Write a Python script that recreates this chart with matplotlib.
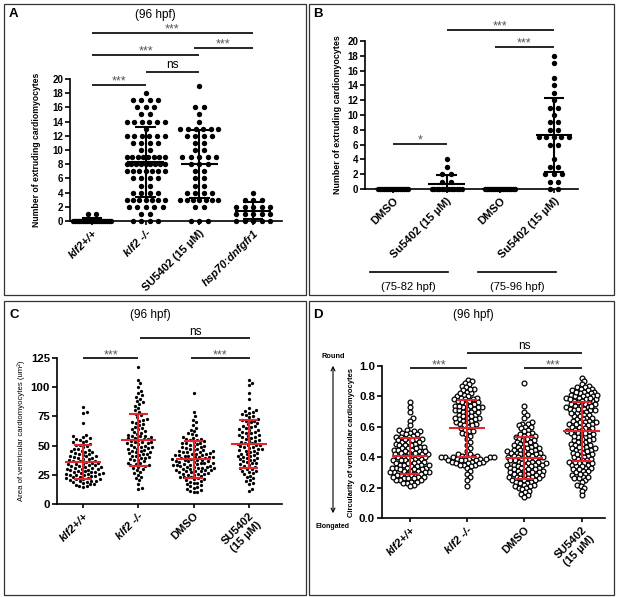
import numpy as np
import matplotlib
matplotlib.use("Agg")
import matplotlib.pyplot as plt
import matplotlib.transforms as mtransforms
from matplotlib.patches import Rectangle, FancyArrowPatch
from matplotlib.ticker import FormatStrFormatter

plt.rcParams['font.family'] = ['Liberation Sans', 'DejaVu Sans']

W, H = 617, 597
RED = '#e3262b'

# ---------------- data ----------------
# A: number of extruding cardiomyocytes (96 hpf)
a_labels = ["klf2+/+", "klf2 -/-", "SU5402 (15 µM)", "hsp70:dnfgfr1"]
a_italic = [True, True, False, True]
a_klf2_wt = [0] * 20 + [1] * 2
a_klf2_mut = ([18] + [17] * 4 + [16] * 3 + [15] * 2 + [14] * 6 + [13] + [12] * 6 + [11] * 4
              + [10] * 2 + [9] * 8 + [8] * 9 + [7] * 7 + [6] * 4 + [5] * 2 + [4] * 4 + [3] * 7
              + [2] * 5 + [1] * 2 + [0] * 4)
a_su5402 = ([19] + [16] * 2 + [15] + [14] + [13] * 6 + [12] * 4 + [11] * 2 + [10] * 2 + [9] * 5
            + [8] * 3 + [7] * 2 + [6] * 2 + [5] * 2 + [4] * 4 + [3] * 7 + [2] * 2 + [0] * 3)
a_hsp70 = [4] + [3] * 3 + [2] * 5 + [1] * 5 + [0] * 5

# B: timed treatment
b_labels = ["DMSO", "Su5402 (15 µM)", "DMSO", "Su5402 (15 µM)"]
b_windows = ["(75-82 hpf)", "(75-96 hpf)"]
b_dmso_82 = [0] * 16
b_su_82 = [4, 3, 2, 2, 1, 1] + [0] * 13
b_dmso_96 = [0] * 16
b_su_96 = [18, 17, 15, 14, 13, 12, 11, 11, 10, 9, 9, 8, 8, 7, 7, 7, 7, 7, 6, 6,
           4, 3, 3, 2, 2, 2, 1, 1, 0, 0]

# C: area of ventricular cardiomyocytes (um^2)
cd_labels = ["klf2+/+", "klf2 -/-", "DMSO", "SU5402\n(15 µM)"]
cd_italic = [True, True, False, False]
c_klf2_wt = [83.4, 79.1, 77.8, 69.5,
             59.2, 57.9, 57.3, 56.1, 55.6, 54.8, 54.2, 53.1, 52.7, 51.4, 50.6, 50.2,
             49.3, 48.8, 47.5, 47.0, 46.2, 45.7, 45.1, 44.4, 43.9, 43.2, 42.6, 42.1,
             41.5, 41.0, 40.3, 39.8, 39.4, 38.7, 38.1, 37.6, 37.2, 36.5, 36.0, 35.4,
             35.0, 34.6, 34.1, 33.5, 33.0, 32.7, 32.2, 31.6, 31.1, 30.8, 30.3, 29.7,
             29.4, 28.9, 28.3, 27.8, 27.5, 26.9, 26.4, 26.0, 25.6, 25.1, 24.7, 24.2,
             23.8, 23.3, 22.9, 22.4, 21.8, 21.5, 21.0, 20.6, 20.1, 19.7, 19.2, 18.6,
             18.1, 17.4, 16.9, 16.2, 15.6, 15.0, 14.3,
             36.8, 33.9, 30.1, 27.2, 24.9, 22.1, 40.7, 44.8, 19.9, 28.6, 31.9, 25.8]
c_klf2_mut = [117.0, 106.5, 103.2, 100.1,
              96.8, 94.9, 93.1, 91.7, 90.2, 88.4, 87.0, 85.6,
              84.1, 82.3, 80.5, 78.9, 77.2, 75.8, 74.1, 72.6, 71.3, 70.2,
              68.7, 67.4, 66.1, 65.0, 63.8, 62.5, 61.4, 60.3,
              59.5, 58.6, 57.8, 57.0, 56.2, 55.5, 54.8, 54.1, 53.4, 52.7, 52.0, 51.3, 50.6, 50.0,
              49.2, 48.4, 47.6, 46.9, 46.1, 45.3, 44.6, 43.8, 43.0, 42.2, 41.5, 40.7, 40.0,
              39.1, 38.2, 37.3, 36.4, 35.5, 34.6, 33.7, 32.8, 31.9, 31.0, 30.2,
              29.0, 27.6, 26.3, 24.9, 23.5, 22.0, 20.6,
              17.4, 14.1, 13.2,
              55.9, 48.8, 45.7, 53.0, 58.1, 37.9, 42.6, 33.1, 64.2, 69.5,
              61.0, 56.7, 51.8, 47.3, 44.1, 39.7, 35.2, 72.0]
c_dmso = [95.3, 78.4, 75.1, 72.2, 69.8, 67.5,
          65.2, 63.4, 62.1, 60.8, 59.6, 58.7, 57.5, 56.6, 55.8, 55.0,
          54.4, 53.7, 53.1, 52.5, 51.9, 51.2, 50.6, 50.0, 49.4, 48.8, 48.1, 47.5, 46.9, 46.2, 45.6, 45.0,
          44.6, 44.1, 43.7, 43.2, 42.8, 42.3, 41.9, 41.4, 41.0, 40.5, 40.1, 39.6, 39.2, 38.7,
          38.3, 37.8, 37.4, 36.9, 36.5, 36.0, 35.6, 35.1,
          34.7, 34.2, 33.8, 33.3, 32.9, 32.4, 32.0, 31.5, 31.1, 30.6, 30.2, 29.7, 29.3, 28.8,
          28.4, 27.9, 27.5, 27.0, 26.6, 26.1, 25.7, 25.2,
          24.6, 24.0, 23.4, 22.8, 22.2, 21.6, 21.0, 20.4, 19.8, 19.1, 18.4, 17.7, 17.0, 16.3, 15.6, 14.9,
          14.0, 13.1, 12.2, 11.3, 10.5, 10.1,
          43.0, 38.0, 33.0, 28.0, 46.0, 40.0, 35.5, 30.8, 48.5, 42.0, 37.0, 31.9, 25.9, 52.0,
          44.5, 39.9, 34.0, 29.0, 23.0, 55.3]
c_su5402 = [106.2, 103.8, 101.5, 94.7, 90.1,
            82.4, 80.2, 79.3, 78.6, 77.9, 77.1, 76.0, 75.2,
            74.1, 73.0, 72.2, 71.4, 70.3, 69.1, 68.2, 67.0, 66.1, 65.2,
            64.3, 63.1, 62.0, 61.2, 60.4, 59.3, 58.5, 57.6, 56.8, 55.9, 55.1,
            54.2, 53.4, 52.6, 51.7, 50.9, 50.1, 49.3, 48.5, 47.6, 46.8, 46.0, 45.2,
            44.3, 43.5, 42.6, 41.8, 40.9, 40.1, 39.2, 38.4, 37.5, 36.7, 35.8, 35.0,
            34.1, 33.0, 31.9, 30.8, 29.7, 28.6, 27.5, 26.4, 25.3,
            24.2, 23.0, 21.9, 20.7, 19.6, 18.4, 17.3,
            12.8, 10.9,
            57.2, 52.1, 47.2, 43.1, 37.9, 32.4, 61.7, 66.8, 41.2, 28.1, 53.8, 48.9,
            71.0, 63.5, 58.9, 50.5, 45.8, 39.8, 34.7, 30.3]

# D: circularity of ventricular cardiomyocytes
d_klf2_wt = [0.76, 0.73, 0.70, 0.66, 0.64, 0.61,
             0.58, 0.58, 0.57, 0.57, 0.56, 0.56, 0.55, 0.55,
             0.54, 0.53, 0.53, 0.53, 0.52, 0.52, 0.51, 0.51, 0.50, 0.50, 0.50,
             0.49, 0.49, 0.48, 0.48, 0.47, 0.47, 0.46, 0.46, 0.45, 0.45, 0.45,
             0.44, 0.44, 0.43, 0.43, 0.42, 0.42, 0.42, 0.41, 0.41, 0.40, 0.40, 0.40,
             0.39, 0.39, 0.38, 0.38, 0.38, 0.37, 0.37, 0.36, 0.36, 0.35, 0.35, 0.35,
             0.34, 0.34, 0.33, 0.33, 0.33, 0.32, 0.32, 0.31, 0.31, 0.30, 0.30, 0.30, 0.30,
             0.29, 0.29, 0.28, 0.28, 0.28, 0.27, 0.27, 0.26, 0.26, 0.25, 0.25, 0.25,
             0.24, 0.24, 0.23, 0.23, 0.22, 0.21,
             0.27, 0.29, 0.31, 0.33, 0.36, 0.38, 0.41, 0.43, 0.46, 0.48, 0.26, 0.32, 0.35, 0.44, 0.52]
d_klf2_mut = [0.91, 0.90, 0.89, 0.88, 0.87, 0.86, 0.85, 0.84, 0.83, 0.82, 0.81, 0.80, 0.80,
              0.79, 0.79, 0.78, 0.78, 0.77, 0.77, 0.76, 0.76, 0.75, 0.75,
              0.74, 0.74, 0.73, 0.73, 0.73, 0.72, 0.72, 0.71, 0.71, 0.70, 0.70,
              0.69, 0.68, 0.68, 0.67, 0.67, 0.66, 0.66, 0.65, 0.65,
              0.64, 0.64, 0.63, 0.63, 0.62, 0.62, 0.61, 0.60,
              0.59, 0.58, 0.57, 0.57, 0.56, 0.55,
              0.54, 0.52, 0.50, 0.48, 0.46, 0.44,
              0.42, 0.42, 0.41, 0.41, 0.41, 0.40, 0.40, 0.40, 0.40, 0.40, 0.39, 0.39,
              0.39, 0.38, 0.38, 0.38, 0.37, 0.37, 0.36, 0.36, 0.35, 0.35, 0.35, 0.34,
              0.33, 0.31, 0.29, 0.27, 0.25, 0.21,
              0.85, 0.82, 0.78, 0.74, 0.70, 0.66, 0.61, 0.40, 0.38, 0.37, 0.36, 0.39]
d_dmso = [0.89, 0.74, 0.70, 0.68, 0.66,
          0.63, 0.62, 0.62, 0.61, 0.60, 0.60, 0.59, 0.58, 0.57, 0.56, 0.55, 0.55,
          0.54, 0.54, 0.53, 0.53, 0.52, 0.52, 0.51, 0.51, 0.50, 0.50,
          0.49, 0.49, 0.48, 0.48, 0.47, 0.47, 0.47, 0.46, 0.46, 0.45, 0.45, 0.45,
          0.44, 0.44, 0.44, 0.43, 0.43, 0.43, 0.42, 0.42, 0.42, 0.41, 0.41, 0.41, 0.40, 0.40, 0.40, 0.40,
          0.39, 0.39, 0.39, 0.38, 0.38, 0.38, 0.37, 0.37, 0.37, 0.36, 0.36, 0.36, 0.35, 0.35, 0.35, 0.35,
          0.34, 0.34, 0.34, 0.33, 0.33, 0.33, 0.32, 0.32, 0.32, 0.31, 0.31, 0.31, 0.30, 0.30, 0.30,
          0.29, 0.29, 0.29, 0.28, 0.28, 0.28, 0.27, 0.27, 0.27, 0.26, 0.26, 0.26, 0.25, 0.25, 0.25,
          0.24, 0.24, 0.23, 0.23, 0.22, 0.22, 0.21, 0.21, 0.20, 0.20,
          0.19, 0.18, 0.17, 0.16, 0.15, 0.14]
d_su5402 = [0.92, 0.90, 0.88, 0.87, 0.86, 0.86, 0.85, 0.85,
            0.84, 0.84, 0.83, 0.83, 0.82, 0.82, 0.81, 0.81, 0.80, 0.80, 0.80,
            0.79, 0.79, 0.78, 0.78, 0.77, 0.77, 0.76, 0.76, 0.75, 0.75, 0.75,
            0.74, 0.74, 0.73, 0.73, 0.72, 0.72, 0.71, 0.71, 0.70, 0.70,
            0.69, 0.68, 0.68, 0.67, 0.66, 0.66, 0.65, 0.65,
            0.64, 0.63, 0.63, 0.62, 0.62, 0.61, 0.61, 0.60, 0.60,
            0.59, 0.58, 0.58, 0.57, 0.56, 0.56, 0.55, 0.55,
            0.54, 0.53, 0.53, 0.52, 0.51, 0.51, 0.50, 0.50,
            0.49, 0.48, 0.48, 0.47, 0.46, 0.46, 0.45, 0.45,
            0.44, 0.43, 0.43, 0.42, 0.41, 0.41, 0.40, 0.40,
            0.39, 0.38, 0.38, 0.37, 0.36, 0.36, 0.35, 0.35,
            0.34, 0.33, 0.33, 0.32, 0.31, 0.31, 0.30,
            0.29, 0.28, 0.27, 0.26, 0.26, 0.25,
            0.24, 0.22, 0.21, 0.20, 0.18, 0.15,
            0.83, 0.81, 0.79, 0.77, 0.74, 0.72, 0.69, 0.67, 0.64, 0.62, 0.59, 0.57, 0.54, 0.52, 0.49,
            0.47, 0.44, 0.42, 0.39, 0.37, 0.34, 0.32, 0.29, 0.27, 0.78, 0.71, 0.63, 0.56, 0.46, 0.36]

# ---------------- helpers ----------------
fig = plt.figure(figsize=(W / 100, H / 100), dpi=100)


def fx(x):
    return x / W


def fy(y):
    return 1 - y / H


def add_axes(l, t, r, b, xlim, ylim):
    ax = fig.add_axes([fx(l), fy(b), (r - l) / W, (b - t) / H])
    ax.set_xlim(xlim)
    ax.set_ylim(ylim)
    for s in ['top', 'right']:
        ax.spines[s].set_visible(False)
    for s in ['left', 'bottom']:
        ax.spines[s].set_linewidth(1.2)
    ax.patch.set_alpha(0)
    return ax


def px_per_unit(ax):
    pos = ax.get_position()
    x0, x1 = ax.get_xlim()
    y0, y1 = ax.get_ylim()
    return pos.width * W / (x1 - x0), pos.height * H / (y1 - y0)


def row_offsets(vals, gap, maxw):
    # integer data: points with the same value side by side in a row
    vals = np.asarray(vals, float)
    offs = np.zeros(len(vals))
    for v in np.unique(vals):
        idx = np.where(vals == v)[0]
        n = len(idx)
        if n > 1:
            s = min(gap, maxw / (n - 1))
            offs[idx] = (np.arange(n) - (n - 1) / 2) * s
    return offs


def swarm_offsets(vals, ypx, d):
    # simple beeswarm in pixel space
    vals = np.asarray(vals, float)
    order = np.argsort(vals)
    offs = np.zeros(len(vals))
    px_, py_ = [], []
    for i in order:
        y = vals[i] * ypx
        near = [(a, b) for a, b in zip(px_, py_) if abs(b - y) < d]
        cands = [0.0]
        for a, b in near:
            dx = np.sqrt(d * d - (b - y) ** 2)
            cands += [a + dx, a - dx]
        cands.sort(key=abs)
        for c in cands:
            if all((c - a) ** 2 + (y - b) ** 2 >= d * d - 1e-6 for a, b in near):
                break
        px_.append(c)
        py_.append(y)
        offs[i] = c
    return offs


def draw_group(ax, i, vals, offs_px, scat, color, mean_hw, cap_hw, lw):
    xpx, _ = px_per_unit(ax)
    vals = np.asarray(vals, float)
    ax.scatter(i + offs_px / xpx, vals, clip_on=False, zorder=3, **scat)
    m = vals.mean()
    s = vals.std(ddof=1)
    kw = dict(color=color, lw=lw, zorder=4, solid_capstyle='butt')
    ax.plot([i - mean_hw, i + mean_hw], [m, m], **kw)
    ax.plot([i, i], [m - s, m + s], **kw)
    ax.plot([i - cap_hw, i + cap_hw], [m + s, m + s], **kw)
    ax.plot([i - cap_hw, i + cap_hw], [m - s, m - s], **kw)


def sig(ax, x0, x1, y, text, dy=0.0):
    ax.plot([x0, x1], [y, y], color='black', lw=1.2, clip_on=False, solid_capstyle='butt')
    tr = mtransforms.offset_copy(ax.transData, fig=fig, x=0, y=dy, units='points')
    if text == 'ns':
        ax.text((x0 + x1) / 2, y, text, transform=tr, ha='center', va='baseline',
                fontsize=8.5, clip_on=False)
    else:
        ax.text((x0 + x1) / 2, y, text, transform=tr, ha='center', va='baseline',
                fontsize=9, color='#555555', clip_on=False)


def style_ticks(ax, labels, italic, xsize, ysize):
    ax.set_xticks(range(len(labels)))
    ax.set_xticklabels(labels, rotation=45, ha='right', rotation_mode='anchor',
                       fontweight='bold', fontsize=xsize)
    for lab, it in zip(ax.get_xticklabels(), italic):
        if it:
            lab.set_style('italic')
        lab.set_multialignment('center')
    ax.tick_params(axis='x', length=3, width=1.2, pad=2)
    ax.tick_params(axis='y', length=3.5, width=1.2, pad=1.5, labelsize=ysize)
    for lab in ax.get_yticklabels():
        lab.set_fontweight('bold')


def border(l, t, r, b):
    fig.add_artist(Rectangle((fx(l), fy(b)), (r - l) / W, (b - t) / H,
                             transform=fig.transFigure, fill=False, lw=0.9, ec='#333333'))


border(4, 4, 306, 295)
border(309, 4, 614, 295)
border(4, 301, 306, 595)
border(309, 301, 614, 595)

dot_big = dict(s=15, color='black', linewidths=0)

# ---------------- panel A ----------------
axA = add_axes(70, 79, 282, 221, (-0.41, 3.54), (0, 20))
axA.set_yticks(range(0, 21, 2))
for i, v in enumerate([a_klf2_wt, a_klf2_mut, a_su5402, a_hsp70]):
    draw_group(axA, i, v, row_offsets(v, 8.5, 38), dot_big, 'black', 0.34, 0.19, 1.5)
style_ticks(axA, a_labels, a_italic, 8, 7)
axA.set_ylabel("Number of extruding cardiomyocytes", fontsize=6.2, fontweight='bold')
axA.yaxis.set_label_coords(-0.135, 0.5)
sig(axA, 0, 1, 19.2, '***')
sig(axA, 1, 2, 21.0, 'ns', 2.5)
sig(axA, 0, 2, 23.4, '***')
sig(axA, 1.9, 3, 24.4, '***')
sig(axA, 0, 3, 26.5, '***')
fig.text(fx(155), fy(15), "(96 hpf)", ha='center', va='center', fontsize=8.5)
fig.text(fx(9), fy(14), "A", ha='left', va='center', fontsize=9.5, fontweight='bold')

# ---------------- panel B ----------------
axB = add_axes(365, 41, 578, 189, (-0.52, 3.45), (0, 20))
axB.set_yticks(range(0, 21, 2))
for i, v in enumerate([b_dmso_82, b_su_82, b_dmso_96, b_su_96]):
    draw_group(axB, i, v, row_offsets(v, 8.5, 30), dot_big, 'black', 0.34, 0.19, 1.5)
style_ticks(axB, b_labels, [False] * 4, 8, 7)
axB.set_ylabel("Number of extruding cardiomyocytes", fontsize=6.4, fontweight='bold')
axB.yaxis.set_label_coords(-0.108, 0.5)
sig(axB, 1, 3, 21.5, '***')
sig(axB, 1.9, 3, 19.2, '***')
sig(axB, 0, 1, 6.1, '*')
for (x0, x1), lab in zip([(-0.43, 1.02), (1.58, 3.04)], b_windows):
    axB.plot([x0, x1], [-11.2, -11.2], color='black', lw=1.2, clip_on=False)
    axB.text((x0 + x1) / 2, -13.3, lab, ha='center', va='center', fontsize=8, clip_on=False)
fig.text(fx(313), fy(14), "B", ha='left', va='center', fontsize=9.5, fontweight='bold')

# ---------------- panel C ----------------
axC = add_axes(57, 358, 282, 504, (-0.47, 3.60), (0, 125))
axC.set_yticks([0, 25, 50, 75, 100, 125])
_, cy = px_per_unit(axC)
dot_small = dict(s=5.5, color='black', linewidths=0)
for i, v in enumerate([c_klf2_wt, c_klf2_mut, c_dmso, c_su5402]):
    draw_group(axC, i, v, swarm_offsets(v, cy, 3.9), dot_small, RED, 0.32, 0.17, 1.5)
style_ticks(axC, cd_labels, cd_italic, 8, 8.2)
axC.set_ylabel("Area of ventricular cardiomyocytes (um²)", fontsize=5.6)
axC.yaxis.set_label_coords(-0.142, 0.5)
sig(axC, 0, 1, 125, '***')
sig(axC, 1.03, 3.02, 142, 'ns', 2.5)
sig(axC, 1.95, 3.02, 125, '***')
fig.text(fx(150), fy(315), "(96 hpf)", ha='center', va='center', fontsize=8.5)
fig.text(fx(9), fy(315), "C", ha='left', va='center', fontsize=9.5, fontweight='bold')

# ---------------- panel D ----------------
axD = add_axes(382, 366, 605, 518, (-0.49, 3.41), (0, 1.0))
axD.set_yticks(np.arange(0, 1.01, 0.2))
axD.yaxis.set_major_formatter(FormatStrFormatter('%.1f'))
_, dy_ = px_per_unit(axD)
ring = dict(s=12, facecolor='white', edgecolor='black', linewidths=0.9)
for i, v in enumerate([d_klf2_wt, d_klf2_mut, d_dmso, d_su5402]):
    draw_group(axD, i, v, swarm_offsets(v, dy_, 4.2), ring, RED, 0.32, 0.17, 1.5)
style_ticks(axD, cd_labels, cd_italic, 8, 8.2)
axD.set_ylabel("Circularity of ventricular cardiomyocytes", fontsize=5.5, fontweight='bold')
axD.yaxis.set_label_coords(-0.121, 0.5)
sig(axD, 0, 1, 0.987, '***')
sig(axD, 1, 3, 1.086, 'ns', 2.5)
sig(axD, 2, 3, 0.987, '***')
fig.text(fx(473), fy(315), "(96 hpf)", ha='center', va='center', fontsize=8.5)
fig.text(fx(313), fy(315), "D", ha='left', va='center', fontsize=9.5, fontweight='bold')
fig.text(fx(333), fy(357), "Round", ha='center', va='center', fontsize=5.3, fontweight='bold')
fig.text(fx(333), fy(527), "Elongated", ha='center', va='center', fontsize=5.0, fontweight='bold')
fig.add_artist(FancyArrowPatch((fx(333), fy(516)), (fx(333), fy(363)),
                               transform=fig.transFigure, arrowstyle='<->',
                               mutation_scale=7, lw=0.8, color='black'))

fig.savefig("out.png", dpi=100)
